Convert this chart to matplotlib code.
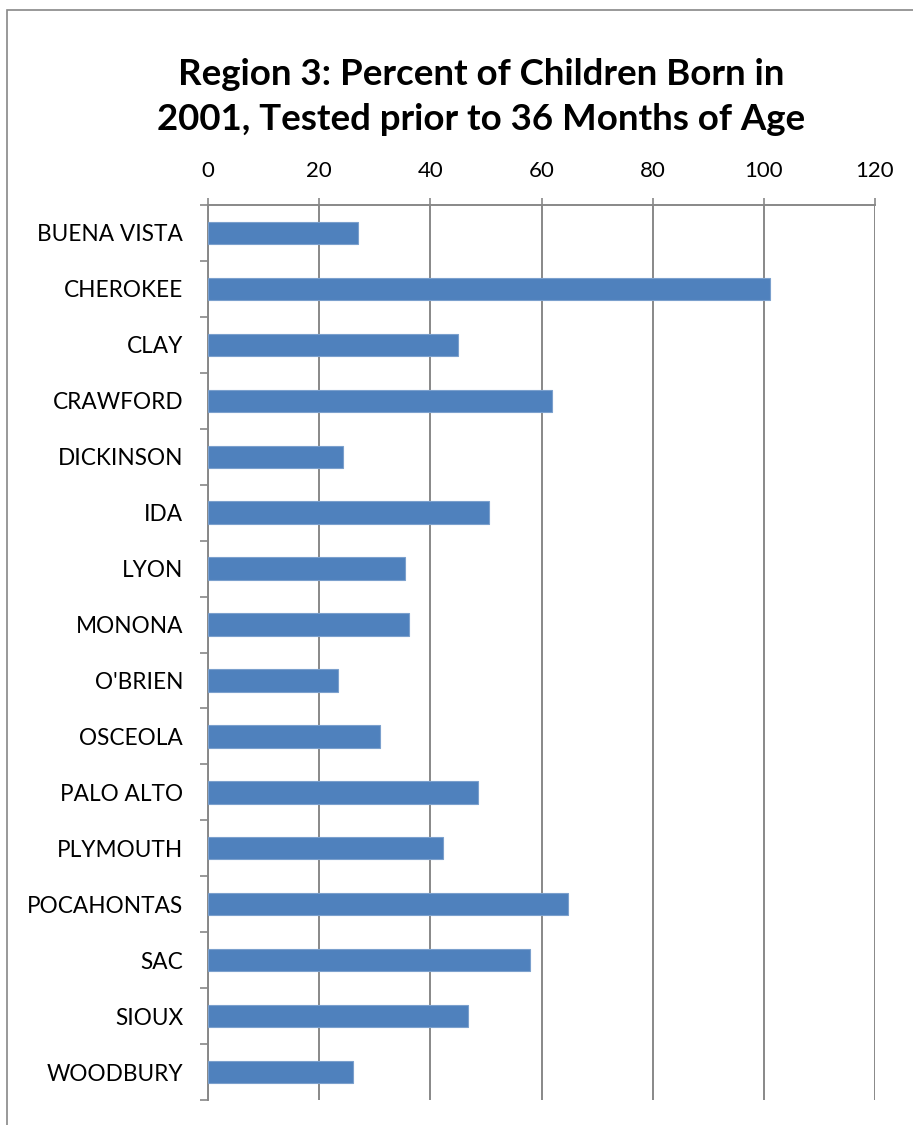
import numpy as np
import matplotlib.pyplot as plt
from matplotlib.patches import Rectangle

counties = ['BUENA VISTA', 'CHEROKEE', 'CLAY', 'CRAWFORD', 'DICKINSON', 'IDA',
            'LYON', 'MONONA', "O'BRIEN", 'OSCEOLA', 'PALO ALTO', 'PLYMOUTH',
            'POCAHONTAS', 'SAC', 'SIOUX', 'WOODBURY']
percent = [27.0, 101.1, 44.9, 61.8, 24.3, 50.6, 35.5, 36.2, 23.4, 31.0,
           48.6, 42.3, 64.7, 58.0, 46.7, 26.1]
xticks = [0, 20, 40, 60, 80, 100, 120]

plt.rcParams['font.family'] = ['Lato', 'DejaVu Sans']

fig = plt.figure(figsize=(9.13, 11.25), dpi=100)
ax = fig.add_axes([208 / 913, 1 - 1100 / 1125, 667 / 913, 895 / 1125])

y = np.arange(len(counties))
ax.barh(y, percent, height=0.4, color='#4F81BD', edgecolor='#7BA0CD', linewidth=0.8, zorder=3)

ax.set_xlim(0, 120)
ax.set_ylim(len(counties) - 0.5, -0.5)
ax.set_xticks(xticks)
ax.xaxis.tick_top()
ax.tick_params(axis='x', direction='out', length=5, color='#888888', width=1.2,
               labelsize=16, pad=12)
ax.grid(axis='x', color='#888888', linewidth=1.4, zorder=0)

ax.set_yticks(y)
ax.set_yticklabels(counties)
ax.set_yticks(np.arange(-0.5, len(counties)), minor=True)
ax.tick_params(axis='y', which='major', length=0, labelsize=16.3, pad=18)
ax.tick_params(axis='y', which='minor', length=6, color='#888888', width=1.2)

for s in ['bottom', 'right']:
    ax.spines[s].set_visible(False)
for s in ['top', 'left']:
    ax.spines[s].set_color('#888888')
    ax.spines[s].set_linewidth(1.4)

fig.text(0.527, 1 - 97 / 1125, 'Region 3: Percent of Children Born in\n2001, Tested prior to 36 Months of Age',
         ha='center', va='center', fontsize=26.4, fontweight='bold', linespacing=1.42)

fig.patches.append(Rectangle((7 / 913, -0.1), 1.2, 1 - 10 / 1125 + 0.1, transform=fig.transFigure,
                             fill=False, edgecolor='#888888', linewidth=1.2))

fig.savefig('out.png', dpi=100)
